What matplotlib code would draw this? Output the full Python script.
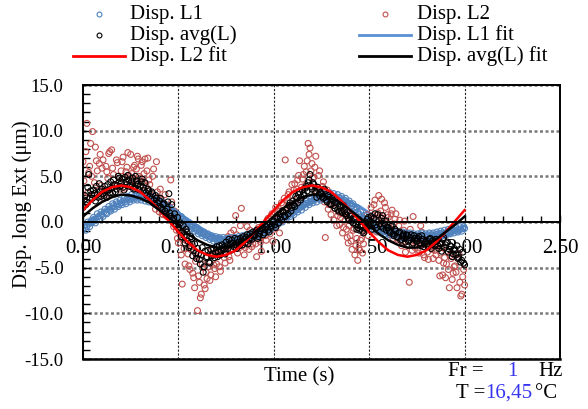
import numpy as np
import matplotlib
matplotlib.use("Agg")
import matplotlib.pyplot as plt
from matplotlib.ticker import MultipleLocator, FormatStrFormatter
from matplotlib.lines import Line2D

plt.rcParams['font.family'] = ['Liberation Serif', 'DejaVu Serif']

# ---- data: samples on whole 0.01 s steps ----
time_pts = np.round(np.arange(201) * 0.01, 2)
# ---- data: samples in between (0.005 + 0.01 k) ----
time_pts_b = np.round(np.arange(200) * 0.01 + 0.005, 3)

disp_L1 = [
    -0.8, -0.6, -0.5, -0.2, -0.1, 0.0, 0.3, 0.2, 0.6, 0.7,
    0.8, 1.1, 1.0, 1.4, 1.3, 1.5, 1.8, 1.7, 2.0, 1.9,
    2.1, 2.3, 2.2, 2.5, 2.4, 2.5, 2.7, 2.6, 2.8, 2.6,
    2.7, 2.8, 2.6, 2.7, 2.5, 2.6, 2.4, 2.5, 2.3, 2.2,
    2.2, 2.0, 1.9, 1.7, 1.6, 1.5, 1.3, 1.1, 0.9, 0.8,
    0.6, 0.4, 0.3, 0.0, -0.1, -0.2, -0.4, -0.5, -0.7, -0.8,
    -0.9, -1.1, -1.2, -1.3, -1.4, -1.5, -1.6, -1.7, -1.8, -1.8,
    -1.9, -1.8, -2.0, -1.9, -2.1, -2.0, -1.9, -2.1, -1.9, -2.0,
    -1.9, -1.8, -2.0, -1.7, -1.8, -1.7, -1.6, -1.7, -1.5, -1.5,
    -1.4, -1.3, -1.3, -1.1, -1.1, -1.0, -0.8, -0.8, -0.6, -0.5,
    -0.4, -0.2, -0.1, 0.1, 0.2, 0.3, 0.5, 0.6, 0.8, 0.9,
    1.0, 1.2, 1.3, 1.5, 1.6, 1.7, 1.9, 2.0, 2.1, 2.2,
    2.3, 2.4, 2.5, 2.6, 2.6, 2.7, 2.8, 2.7, 2.9, 2.8,
    2.8, 2.7, 2.8, 2.6, 2.7, 2.6, 2.4, 2.4, 2.2, 2.1,
    2.0, 1.8, 1.6, 1.4, 1.1, 0.8, 0.6, 0.4, 0.2, 0.0,
    -0.2, -0.3, -0.5, -0.6, -0.7, -0.8, -0.9, -0.9, -1.0, -1.1,
    -1.1, -1.2, -1.1, -1.3, -1.2, -1.3, -1.4, -1.3, -1.4, -1.5,
    -1.4, -1.5, -1.4, -1.6, -1.5, -1.5, -1.6, -1.4, -1.6, -1.5,
    -1.5, -1.4, -1.6, -1.4, -1.5, -1.4, -1.3, -1.4, -1.2, -1.3,
    -1.2, -1.1, -1.2, -1.0, -1.0, -0.9, -1.0, -0.8, -0.8, -0.7,
    -0.7,
]
disp_L1_b = [
    -0.4, -0.9, 0.0, -0.5, 0.2, 0.5, -0.1, 0.9, 0.3, 1.1,
    0.6, 1.4, 0.9, 1.7, 1.2, 2.0, 1.4, 2.2, 1.7, 2.4,
    1.9, 2.6, 2.0, 2.8, 2.2, 3.0, 2.4, 2.9, 2.4, 3.1,
    2.4, 3.0, 2.3, 2.9, 2.2, 2.8, 2.1, 2.6, 1.9, 2.4,
    1.8, 2.2, 1.5, 1.9, 1.2, 1.6, 0.9, 1.2, 0.5, 0.9,
    0.2, 0.6, -0.2, 0.2, -0.5, -0.1, -0.8, -0.3, -1.0, -0.6,
    -1.3, -0.9, -1.5, -1.1, -1.7, -1.3, -1.9, -1.5, -2.1, -1.6,
    -2.2, -1.7, -2.3, -1.7, -2.3, -1.8, -2.3, -1.7, -2.2, -1.7,
    -2.1, -1.6, -2.1, -1.5, -2.0, -1.4, -1.9, -1.3, -1.7, -1.2,
    -1.6, -1.0, -1.5, -0.9, -1.3, -0.7, -1.1, -0.4, -0.8, -0.2,
    -0.5, 0.1, -0.2, 0.4, 0.0, 0.7, 0.3, 0.9, 0.6, 1.2,
    0.8, 1.5, 1.1, 1.8, 1.3, 2.0, 1.6, 2.3, 1.9, 2.5,
    2.1, 2.7, 2.2, 2.9, 2.4, 3.1, 2.5, 3.1, 2.6, 3.2,
    2.5, 3.1, 2.4, 3.0, 2.3, 2.8, 2.1, 2.6, 1.9, 2.3,
    1.7, 2.0, 1.3, 1.6, 0.9, 1.1, 0.3, 0.7, -0.1, 0.3,
    -0.5, 0.0, -0.8, -0.3, -1.0, -0.5, -1.2, -0.7, -1.3, -0.8,
    -1.4, -0.9, -1.5, -1.0, -1.6, -1.1, -1.7, -1.1, -1.7, -1.2,
    -1.8, -1.2, -1.8, -1.3, -1.9, -1.3, -1.8, -1.2, -1.8, -1.3,
    -1.7, -1.2, -1.8, -1.2, -1.7, -1.1, -1.6, -1.0, -1.5, -0.9,
    -1.4, -0.8, -1.3, -0.7, -1.2, -0.6, -1.1, -0.5, -1.0, -0.5,
]

disp_L2 = [
    6.6, 2.8, 10.8, 5.4, 8.6, 9.9, 4.3, 6.7, 3.5, 7.4,
    5.9, 2.6, 6.1, 4.8, 7.7, 7.9, 5.2, 3.9, 6.5, 4.4,
    5.6, 7.1, 3.7, 6.0, 5.1, 7.4, 4.6, 6.2, 5.8, 6.9,
    4.8, 6.6, 5.3, 3.9, 7.0, 4.1, 2.6, 5.8, 1.4, 3.3,
    1.1, 2.5, 0.8, 3.0, 0.6, 1.7, 4.6, 0.5, 1.2, -0.9,
    -2.3, -1.4, -6.8, -2.9, -0.4, -3.5, -5.2, -2.7, -6.1, -4.3,
    -9.7, -6.6, -7.9, -5.0, -7.3, -6.2, -4.4, -5.8, -3.6, -5.1,
    -4.6, -3.1, -5.4, -2.4, -3.9, -3.3, -1.6, -4.2, -2.5, -0.9,
    0.7, -3.4, -2.1, 1.5, -1.7, -2.8, -0.5, -3.0, -1.9, -2.4,
    -1.1, -3.8, -0.6, -2.2, -1.5, -0.3, -2.0, 0.4, -1.3, 0.9,
    -0.8, 1.6, 0.3, -1.2, 2.1, 1.0, 6.8, 2.4, 3.3, 1.8,
    2.9, 4.2, 3.6, 5.1, 2.2, 4.7, 6.1, 5.5, 8.6, 8.1,
    6.4, 4.9, 7.2, 3.8, 5.6, 2.7, 4.4, -1.7, 3.5, 1.9,
    0.8, 2.3, 1.5, -0.4, 1.1, 0.5, -1.2, 1.0, -0.8, -2.3,
    -1.5, -3.0, -0.7, -2.6, -4.2, -3.1, -1.8, -2.4, -0.9, 0.8,
    -0.3, 1.6, 0.7, 2.4, -1.1, 2.9, 1.2, 0.4, 2.1, -0.6,
    0.5, -1.4, 1.3, -0.2, 0.9, -1.9, 0.2, -2.6, -0.9, -3.3,
    -1.2, -6.6, -2.1, 0.6, -2.8, -1.7, -3.4, -0.4, -2.5, -3.9,
    -2.2, -4.1, -1.5, -3.0, -2.6, -3.6, -1.9, -5.9, -2.8, -4.5,
    -6.1, -3.2, -7.2, -4.0, -5.6, -4.8, -7.2, -3.5, -8.1, -6.0,
    -6.9,
]
disp_L2_b = [
    4.5, 7.7, 3.2, 6.1, 5.0, 2.9, 8.2, 5.6, 6.4, 4.0,
    6.8, 3.4, 5.5, 7.5, 3.0, 5.9, 4.1, 6.8, 5.0, 3.6,
    6.6, 4.8, 5.5, 7.6, 4.2, 5.3, 6.0, 4.0, 7.2, 5.0,
    6.2, 4.4, 6.9, 5.6, 4.6, 3.0, 5.0, 2.1, 6.6, 2.7,
    3.6, 0.9, 2.0, 1.3, 1.8, 0.9, 2.2, -0.5, 0.3, -1.8,
    -0.9, -3.6, -1.9, -4.6, -2.1, -4.8, -3.0, -5.6, -7.2, -3.8,
    -5.9, -8.3, -4.6, -6.9, -5.5, -4.9, -6.4, -3.1, -4.7, -6.0,
    -3.6, -4.9, -2.9, -3.4, -4.5, -2.7, -3.8, -1.2, -3.0, -2.3,
    -1.4, -2.9, -0.4, -2.6, -3.6, -1.6, -2.2, -0.9, -2.7, -1.3,
    -2.4, -0.8, -1.9, -3.2, -0.5, -1.5, 0.2, -0.9, 0.6, -2.1,
    0.8, -0.4, 1.2, 0.0, 1.9, 2.6, 0.5, 3.0, 1.4, 4.1,
    3.5, 2.1, 4.6, 6.7, 3.8, 5.2, 4.0, 6.7, 7.4, 5.6,
    4.8, 6.0, 3.4, 5.1, 2.6, 3.9, 2.2, 3.0, 1.4, 2.8,
    1.9, 0.2, 2.6, 0.7, -0.3, 0.9, -0.6, 0.2, -1.7, -0.4,
    -2.1, -0.9, -3.6, -1.8, -2.9, -2.0, -3.4, -1.1, -0.2, -1.5,
    0.4, -0.9, 1.9, 0.2, 1.0, 0.6, 2.5, -0.3, 1.6, 0.8,
    -0.7, 0.9, -1.8, 0.3, -1.1, -0.4, -1.6, -2.2, 0.1, -1.8,
    -2.6, -0.8, -3.1, -1.5, -2.2, -3.0, -2.0, -1.1, -3.6, -2.4,
    -3.3, -1.8, -2.7, -4.0, -3.1, -2.5, -4.2, -3.4, -5.8, -3.9,
    -4.6, -5.2, -3.7, -6.3, -4.9, -5.5, -3.9, -6.6, -7.9, -5.2,
]

disp_avg = [
    1.6, 2.9, 2.2, 5.2, 3.4, 2.6, 3.1, 3.9, 2.7, 3.3,
    3.6, 2.9, 3.4, 4.1, 3.2, 3.7, 4.6, 3.3, 4.0, 4.8,
    4.3, 3.8, 4.9, 4.1, 4.6, 4.0, 4.8, 3.7, 4.5, 4.2,
    3.9, 4.7, 3.5, 3.2, 3.6, 2.8, 3.3, 2.4, 2.9, 2.1,
    2.3, 1.6, 1.9, 1.2, 1.4, 3.1, 0.6, 0.2, 0.9, -0.3,
    -0.6, -0.1, -1.2, -1.5, -0.8, -2.1, -2.6, -1.8, -3.1, -3.4,
    -2.9, -4.1, -3.6, -5.5, -3.2, -3.8, -4.4, -3.0, -3.5, -3.9,
    -2.7, -3.3, -3.6, -2.5, -3.0, -2.2, -2.9, -2.4, -2.0, -2.7,
    -2.5, -1.9, -2.6, -2.1, -1.6, -2.3, -1.4, -2.0, -1.7, -1.1,
    -1.5, -0.9, -1.6, -1.0, -0.6, -1.2, -0.5, -0.9, -0.2, -0.4,
    0.1, -0.6, 0.4, 0.9, 0.2, 1.1, 0.6, 1.5, 1.8, 1.2,
    2.3, 1.7, 2.6, 3.0, 2.4, 3.5, 2.9, 3.9, 4.3, 5.2,
    3.6, 4.1, 3.3, 3.8, 2.9, 3.1, 2.6, 3.4, 2.2, 2.7,
    1.9, 2.4, 1.5, 2.1, 1.2, 1.6, 1.0, 1.3, 0.7, 0.4,
    0.8, 0.1, 0.5, -0.3, -0.6, -0.9, -0.3, -1.2, -0.7, 0.3,
    -0.4, 0.6, -0.1, 0.9, -0.6, 0.2, -0.5, 0.7, -0.2, -0.9,
    -0.6, -1.2, -0.4, -1.5, -1.0, -1.7, -1.1, -1.9, -1.3, -2.2,
    -1.5, -2.0, -1.4, -2.3, -1.8, -2.1, -1.6, -2.6, -1.9, -2.4,
    -2.0, -2.7, -1.8, -2.5, -2.2, -1.9, -2.6, -2.3, -3.2, -1.7,
    -2.5, -2.2, -3.0, -2.7, -3.5, -3.1, -2.6, -3.9, -4.4, -3.3,
    -4.7,
]
disp_avg_b = [
    2.4, 1.9, 3.8, 2.6, 3.0, 3.5, 2.3, 3.0, 4.2, 2.8,
    3.1, 3.9, 2.7, 3.5, 4.4, 3.2, 4.1, 3.6, 5.0, 3.9,
    4.7, 3.5, 4.4, 5.1, 3.9, 4.4, 3.6, 5.0, 4.1, 3.5,
    4.4, 3.8, 4.3, 2.9, 3.4, 2.5, 3.1, 2.0, 2.6, 1.7,
    2.6, 1.4, 2.0, 0.9, 2.2, 1.0, 1.9, 0.4, -0.2, 0.5,
    -0.9, -1.6, -0.4, -2.3, -1.1, -2.8, -1.6, -3.7, -2.4, -4.0,
    -3.5, -4.6, -2.8, -4.9, -3.9, -3.1, -4.5, -3.7, -2.9, -3.4,
    -3.8, -2.6, -3.2, -2.8, -3.5, -2.6, -1.9, -3.1, -2.3, -1.8,
    -2.9, -2.2, -1.8, -2.5, -1.9, -1.7, -2.4, -1.3, -1.9, -1.5,
    -1.1, -1.8, -1.3, -0.7, -1.4, -0.8, -0.3, -1.1, -0.6, 0.0,
    -0.3, 0.6, -0.1, 0.5, 1.2, 0.7, 1.3, 0.9, 2.1, 1.6,
    1.9, 2.8, 2.1, 3.3, 2.7, 3.1, 3.7, 3.4, 4.6, 3.9,
    4.3, 3.4, 2.7, 3.5, 3.2, 2.8, 3.6, 2.4, 2.9, 2.0,
    2.6, 1.8, 2.2, 1.4, 1.8, 1.2, 1.8, 0.9, 1.1, 0.2,
    0.6, -0.1, 0.3, -0.8, 0.0, -0.5, -1.0, -0.1, -0.6, 0.5,
    0.1, -0.8, 0.4, -0.3, 0.8, -0.2, 0.4, -0.7, 0.1, -0.6,
    -1.0, -0.5, -1.3, -0.8, -1.6, -1.2, -2.0, -1.5, -1.8, -1.4,
    -2.1, -1.7, -2.5, -1.5, -2.0, -1.8, -2.3, -1.5, -2.7, -2.2,
    -2.4, -1.9, -2.9, -2.0, -2.6, -2.1, -2.9, -2.4, -1.9, -2.8,
    -2.3, -3.3, -2.6, -3.8, -2.9, -3.6, -4.0, -3.0, -4.2, -4.5,
]

# ---- fitted curves (time step 0.05 s) ----
time_fit = np.round(np.arange(41) * 0.05, 2)

fit_L1 = [
    -0.4, 0.3, 1.0, 1.7, 2.2, 2.5, 2.6, 2.5, 2.2, 1.7,
    1.0, 0.3, -0.4, -1.1, -1.6, -1.9, -2.0, -1.9, -1.6, -1.1,
    -0.4, 0.3, 1.0, 1.7, 2.2, 2.5, 2.6, 2.5, 2.2, 1.7,
    1.0, 0.3, -0.4, -1.1, -1.6, -1.9, -2.0, -1.9, -1.6, -1.1,
    -0.4,
]
fit_L2 = [
    1.3, 2.4, 3.3, 3.8, 4.0, 3.8, 3.3, 2.4, 1.3, 0.1,
    -1.1, -2.2, -3.1, -3.6, -3.8, -3.6, -3.1, -2.2, -1.1, 0.1,
    1.3, 2.4, 3.3, 3.8, 4.0, 3.8, 3.3, 2.4, 1.3, 0.1,
    -1.1, -2.2, -3.1, -3.6, -3.8, -3.6, -3.1, -2.2, -1.1, 0.1,
    1.3,
]
fit_avg = [
    0.6, 1.5, 2.2, 2.7, 3.0, 2.9, 2.6, 2.1, 1.3, 0.5,
    -0.4, -1.3, -2.0, -2.5, -2.8, -2.8, -2.4, -1.9, -1.1, -0.3,
    0.6, 1.5, 2.2, 2.7, 3.0, 2.9, 2.6, 2.1, 1.3, 0.5,
    -0.4, -1.3, -2.0, -2.5, -2.8, -2.8, -2.4, -1.9, -1.1, -0.3,
    0.6,
]

series_labels = ["Disp. L1", "Disp. L2", "Disp. avg(L)",
                 "Disp. L1 fit", "Disp. L2 fit", "Disp. avg(L) fit"]

C_BLUE = '#4F81BD'
C_BLUE_FIT = '#5B8FD6'
C_RED = '#C0504D'
C_RED_FIT = '#FF0000'
C_TXT_BLUE = '#3535F0'

W, H = 588, 409
fig = plt.figure(figsize=(W / 100, H / 100), dpi=100)

def fx(px):
    return px / W

def fy(py):
    return 1 - py / H

L, R, T, B = 83, 560, 85, 359
ax = fig.add_axes([fx(L), fy(B), fx(R - L), (B - T) / H])
ax.set_xlim(0, 2.5)
ax.set_ylim(-15, 15)
ax.set_axisbelow(True)

# grid
ax.yaxis.grid(True, which='major', color='#7a7a7a', linestyle=(0, (1.2, 1.0)), linewidth=1.8)
ax.xaxis.grid(True, which='major', color='#222222', linestyle=(0, (2.0, 1.5)), linewidth=0.8)

# data
MS = 18
ax.plot(time_fit, fit_L1, color=C_BLUE_FIT, lw=2.0, zorder=1.5)
ax.scatter(np.concatenate([time_pts, time_pts_b]), disp_L2 + disp_L2_b, s=MS,
           facecolors='none', edgecolors=C_RED, linewidths=0.8, zorder=2)
ax.scatter(np.concatenate([time_pts, time_pts_b]), disp_L1 + disp_L1_b, s=MS,
           facecolors='none', edgecolors=C_BLUE, linewidths=0.8, zorder=2.1)
ax.scatter(np.concatenate([time_pts, time_pts_b]), disp_avg + disp_avg_b, s=MS,
           facecolors='none', edgecolors='black', linewidths=0.8, zorder=2.2)
ax.plot(time_fit, fit_L2, color=C_RED_FIT, lw=1.8, zorder=2.3)
ax.plot(time_fit, fit_avg, color='black', lw=1.8, zorder=2.4)

# spines
ax.spines['bottom'].set_position(('data', 0))
for s in ['bottom', 'left', 'top', 'right']:
    ax.spines[s].set_linewidth(1.4)
    ax.spines[s].set_color('black')
ax.axhline(-15, color='black', lw=1.8, clip_on=False, zorder=3)

ax.xaxis.set_major_locator(MultipleLocator(0.5))
ax.xaxis.set_minor_locator(MultipleLocator(0.1))
ax.xaxis.set_major_formatter(FormatStrFormatter('%.2f'))
ax.yaxis.set_major_locator(MultipleLocator(5))
ax.yaxis.set_minor_locator(MultipleLocator(1))
ax.yaxis.set_major_formatter(FormatStrFormatter('%.1f'))

ax.tick_params(axis='x', which='both', direction='in', top=False, length=5, width=1, pad=12, labelsize=15)
ax.tick_params(axis='x', which='minor', length=4)
ax.tick_params(axis='y', which='both', direction='in', right=False, length=5, width=1, pad=14, labelsize=13.5)

# axis titles
fig.text(fx(299), fy(377), "Time (s)", ha='center', va='center', fontsize=15)
fig.text(fx(22), fy(204), "Disp. long Ext (\u03bcm)", ha='center', va='center', rotation=90, fontsize=15)

# Fr / T annotation
fig.text(fx(448), fy(371), "Fr =", ha='left', va='center', fontsize=15)
fig.text(fx(512), fy(371), "1", ha='center', va='center', fontsize=15, color=C_TXT_BLUE)
fig.text(fx(538), fy(371), "Hz", ha='left', va='center', fontsize=15)
fig.text(fx(485), fy(393), "T =", ha='right', va='center', fontsize=15)
fig.text(fx(485), fy(393), "16,45", ha='left', va='center', fontsize=15, color=C_TXT_BLUE)
fig.text(fx(535), fy(393), "\u00b0C", ha='left', va='center', fontsize=15)

# legend (manual, two columns x three rows)
rows = [14, 35, 56]
entries = [
    (0, 0, 'marker', C_BLUE, series_labels[0]),
    (0, 1, 'marker', 'black', series_labels[2]),
    (0, 2, 'line', C_RED_FIT, series_labels[4]),
    (1, 0, 'marker', C_RED, series_labels[1]),
    (1, 1, 'line', C_BLUE_FIT, series_labels[3]),
    (1, 2, 'line', 'black', series_labels[5]),
]
handle_x = [(73, 125), (359, 411)]
text_x = [130, 417]
for col, row, kind, color, label in entries:
    y = fy(rows[row])
    x0, x1 = handle_x[col]
    if kind == 'line':
        fig.add_artist(Line2D([fx(x0), fx(x1)], [y, y], transform=fig.transFigure,
                              color=color, lw=2.0))
    else:
        xm = (x0 + x1) / 2
        fig.add_artist(Line2D([fx(xm)], [y], transform=fig.transFigure, marker='o',
                              markersize=3.5, markerfacecolor='none',
                              markeredgecolor=color, markeredgewidth=0.8, linestyle='none'))
    fig.text(fx(text_x[col]), y, label, ha='left', va='center', fontsize=15)

fig.savefig("out.png", dpi=100)
